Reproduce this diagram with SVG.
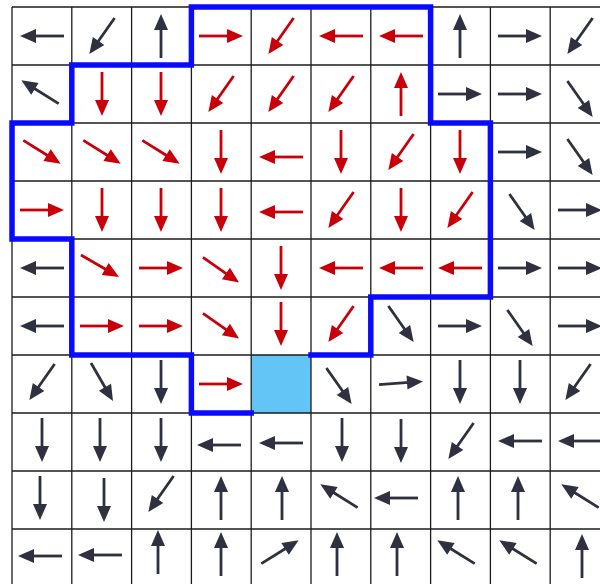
<svg xmlns="http://www.w3.org/2000/svg" xmlns:xlink="http://www.w3.org/1999/xlink" width="600" height="584" viewBox="0 0 600 584">
<style>
.grid{stroke:#1c1c1c;stroke-width:1.3;fill:none}
.k{stroke:#2f3040;fill:#2f3040}
.r{stroke:#c8000a;fill:#c8000a}
.bnd{stroke:#0a0aff;stroke-width:5.5;fill:none;stroke-linejoin:miter;stroke-linecap:square}
</style>
<defs>
<g id="ar"><line x1="-22" y1="0" x2="8" y2="0" stroke-width="2.8"/><path d="M22,0 L6,-7 L6,7 Z" stroke="none"/></g>
</defs>
<rect width="600" height="584" fill="#ffffff"/>
<rect id="goal" x="251.2" y="355" width="59.8" height="58" fill="#63c5f5"/>
<path class="grid" d="M12,7V584M71.8,7V584M131.6,7V584M191.4,7V584M251.2,7V584M311,7V584M370.8,7V584M430.6,7V584M490.4,7V584M550.2,7V584M12,7H600M12,65H600M12,123H600M12,181H600M12,239H600M12,297H600M12,355H600M12,413H600M12,471H600M12,529H600"/>
<path id="boundary" class="bnd" d="M311,355 L370.8,355 L370.8,297 L490.4,297 L490.4,123 L430.6,123 L430.6,7 L191.4,7 L191.4,65 L71.8,65 L71.8,123 L12,123 L12,239 L71.8,239 L71.8,355 L191.4,355 L191.4,413 L251.2,413"/>
<g id="arrows">
<!-- row 0 -->
<use id="r0c0" href="#ar" class="k" transform="translate(42,36) rotate(180)"/>
<use id="r0c1" href="#ar" class="k" transform="translate(102,36) rotate(125)"/>
<use id="r0c2" href="#ar" class="k" transform="translate(161,36) rotate(270)"/>
<use id="r0c3" href="#ar" class="r" transform="translate(221,36) rotate(0)"/>
<use id="r0c4" href="#ar" class="r" transform="translate(281,36) rotate(125)"/>
<use id="r0c5" href="#ar" class="r" transform="translate(341,36) rotate(180)"/>
<use id="r0c6" href="#ar" class="r" transform="translate(401,36) rotate(180)"/>
<use id="r0c7" href="#ar" class="k" transform="translate(460,36) rotate(270)"/>
<use id="r0c8" href="#ar" class="k" transform="translate(520,36) rotate(0)"/>
<use id="r0c9" href="#ar" class="k" transform="translate(580,36) rotate(125)"/>
<!-- row 1 -->
<use id="r1c0" href="#ar" class="k" transform="translate(40,92) rotate(212)"/>
<use id="r1c1" href="#ar" class="r" transform="translate(102,94) rotate(90)"/>
<use id="r1c2" href="#ar" class="r" transform="translate(161,94) rotate(90)"/>
<use id="r1c3" href="#ar" class="r" transform="translate(221,94) rotate(125)"/>
<use id="r1c4" href="#ar" class="r" transform="translate(281,94) rotate(125)"/>
<use id="r1c5" href="#ar" class="r" transform="translate(341,94) rotate(125)"/>
<use id="r1c6" href="#ar" class="r" transform="translate(401,94) rotate(270)"/>
<use id="r1c7" href="#ar" class="k" transform="translate(460,94) rotate(0)"/>
<use id="r1c8" href="#ar" class="k" transform="translate(520,94) rotate(0)"/>
<use id="r1c9" href="#ar" class="k" transform="translate(580,99) rotate(55)"/>
<!-- row 2 -->
<use id="r2c0" href="#ar" class="r" transform="translate(42,152) rotate(32)"/>
<use id="r2c1" href="#ar" class="r" transform="translate(102,152) rotate(32)"/>
<use id="r2c2" href="#ar" class="r" transform="translate(161,152) rotate(32)"/>
<use id="r2c3" href="#ar" class="r" transform="translate(221,152) rotate(90)"/>
<use id="r2c4" href="#ar" class="r" transform="translate(281,157) rotate(180)"/>
<use id="r2c5" href="#ar" class="r" transform="translate(341,152) rotate(90)"/>
<use id="r2c6" href="#ar" class="r" transform="translate(401,152) rotate(125)"/>
<use id="r2c7" href="#ar" class="r" transform="translate(460,152) rotate(90)"/>
<use id="r2c8" href="#ar" class="k" transform="translate(520,152) rotate(0)"/>
<use id="r2c9" href="#ar" class="k" transform="translate(580,157) rotate(55)"/>
<!-- row 3 -->
<use id="r3c0" href="#ar" class="r" transform="translate(42,210) rotate(0)"/>
<use id="r3c1" href="#ar" class="r" transform="translate(102,210) rotate(90)"/>
<use id="r3c2" href="#ar" class="r" transform="translate(161,210) rotate(90)"/>
<use id="r3c3" href="#ar" class="r" transform="translate(221,210) rotate(90)"/>
<use id="r3c4" href="#ar" class="r" transform="translate(281,212) rotate(180)"/>
<use id="r3c5" href="#ar" class="r" transform="translate(341,210) rotate(125)"/>
<use id="r3c6" href="#ar" class="r" transform="translate(401,210) rotate(90)"/>
<use id="r3c7" href="#ar" class="r" transform="translate(460,210) rotate(125)"/>
<use id="r3c8" href="#ar" class="k" transform="translate(522,212) rotate(55)"/>
<use id="r3c9" href="#ar" class="k" transform="translate(580,210) rotate(0)"/>
<!-- row 4 -->
<use id="r4c0" href="#ar" class="k" transform="translate(42,268) rotate(180)"/>
<use id="r4c1" href="#ar" class="r" transform="translate(100,266) rotate(30)"/>
<use id="r4c2" href="#ar" class="r" transform="translate(161,268) rotate(0)"/>
<use id="r4c3" href="#ar" class="r" transform="translate(221,270) rotate(35)"/>
<use id="r4c4" href="#ar" class="r" transform="translate(281,268) rotate(90)"/>
<use id="r4c5" href="#ar" class="r" transform="translate(341,268) rotate(180)"/>
<use id="r4c6" href="#ar" class="r" transform="translate(401,268) rotate(180)"/>
<use id="r4c7" href="#ar" class="r" transform="translate(460,268) rotate(180)"/>
<use id="r4c8" href="#ar" class="k" transform="translate(520,268) rotate(0)"/>
<use id="r4c9" href="#ar" class="k" transform="translate(580,268) rotate(0)"/>
<!-- row 5 -->
<use id="r5c0" href="#ar" class="k" transform="translate(42,326) rotate(180)"/>
<use id="r5c1" href="#ar" class="r" transform="translate(102,326) rotate(0)"/>
<use id="r5c2" href="#ar" class="r" transform="translate(161,326) rotate(0)"/>
<use id="r5c3" href="#ar" class="r" transform="translate(221,326) rotate(35)"/>
<use id="r5c4" href="#ar" class="r" transform="translate(281,324) rotate(90)"/>
<use id="r5c5" href="#ar" class="r" transform="translate(341,324) rotate(125)"/>
<use id="r5c6" href="#ar" class="k" transform="translate(401,324) rotate(55)"/>
<use id="r5c7" href="#ar" class="k" transform="translate(460,326) rotate(0)"/>
<use id="r5c8" href="#ar" class="k" transform="translate(520,328) rotate(55)"/>
<use id="r5c9" href="#ar" class="k" transform="translate(580,326) rotate(0)"/>
<!-- row 6 -->
<use id="r6c0" href="#ar" class="k" transform="translate(42,382) rotate(125)"/>
<use id="r6c1" href="#ar" class="k" transform="translate(102,382) rotate(60)"/>
<use id="r6c2" href="#ar" class="k" transform="translate(161,382) rotate(90)"/>
<use id="r6c3" href="#ar" class="r" transform="translate(221,384) rotate(0)"/>
<use id="r6c5" href="#ar" class="k" transform="translate(339,386) rotate(55)"/>
<use id="r6c6" href="#ar" class="k" transform="translate(401,383) rotate(-4)"/>
<use id="r6c7" href="#ar" class="k" transform="translate(460,382) rotate(90)"/>
<use id="r6c8" href="#ar" class="k" transform="translate(520,382) rotate(90)"/>
<use id="r6c9" href="#ar" class="k" transform="translate(578,382) rotate(125)"/>
<!-- row 7 -->
<use id="r7c0" href="#ar" class="k" transform="translate(42,440) rotate(90)"/>
<use id="r7c1" href="#ar" class="k" transform="translate(100,440) rotate(90)"/>
<use id="r7c2" href="#ar" class="k" transform="translate(161,440) rotate(90)"/>
<use id="r7c3" href="#ar" class="k" transform="translate(219,445) rotate(180)"/>
<use id="r7c4" href="#ar" class="k" transform="translate(281,443) rotate(180)"/>
<use id="r7c5" href="#ar" class="k" transform="translate(342,440) rotate(90)"/>
<use id="r7c6" href="#ar" class="k" transform="translate(401,441) rotate(90)"/>
<use id="r7c7" href="#ar" class="k" transform="translate(461,441) rotate(125)"/>
<use id="r7c8" href="#ar" class="k" transform="translate(520,441) rotate(180)"/>
<use id="r7c9" href="#ar" class="k" transform="translate(580,441) rotate(180)"/>
<!-- row 8 -->
<use id="r8c0" href="#ar" class="k" transform="translate(40,498) rotate(90)"/>
<use id="r8c1" href="#ar" class="k" transform="translate(104,500) rotate(90)"/>
<use id="r8c2" href="#ar" class="k" transform="translate(161,494) rotate(125)"/>
<use id="r8c3" href="#ar" class="k" transform="translate(221,498) rotate(270)"/>
<use id="r8c4" href="#ar" class="k" transform="translate(282,498) rotate(270)"/>
<use id="r8c5" href="#ar" class="k" transform="translate(339,496) rotate(212)"/>
<use id="r8c6" href="#ar" class="k" transform="translate(396,498) rotate(180)"/>
<use id="r8c7" href="#ar" class="k" transform="translate(458,498) rotate(270)"/>
<use id="r8c8" href="#ar" class="k" transform="translate(518,498) rotate(270)"/>
<use id="r8c9" href="#ar" class="k" transform="translate(580,496) rotate(212)"/>
<!-- row 9 -->
<use id="r9c0" href="#ar" class="k" transform="translate(40,556) rotate(180)"/>
<use id="r9c1" href="#ar" class="k" transform="translate(100,555) rotate(180)"/>
<use id="r9c2" href="#ar" class="k" transform="translate(158,552) rotate(270)"/>
<use id="r9c3" href="#ar" class="k" transform="translate(221,554) rotate(270)"/>
<use id="r9c4" href="#ar" class="k" transform="translate(280,552) rotate(-32)"/>
<use id="r9c5" href="#ar" class="k" transform="translate(337,554) rotate(270)"/>
<use id="r9c6" href="#ar" class="k" transform="translate(397,554) rotate(270)"/>
<use id="r9c7" href="#ar" class="k" transform="translate(456,552) rotate(212)"/>
<use id="r9c8" href="#ar" class="k" transform="translate(518,552) rotate(212)"/>
<use id="r9c9" href="#ar" class="k" transform="translate(582,556) rotate(270)"/>
</g>
</svg>
